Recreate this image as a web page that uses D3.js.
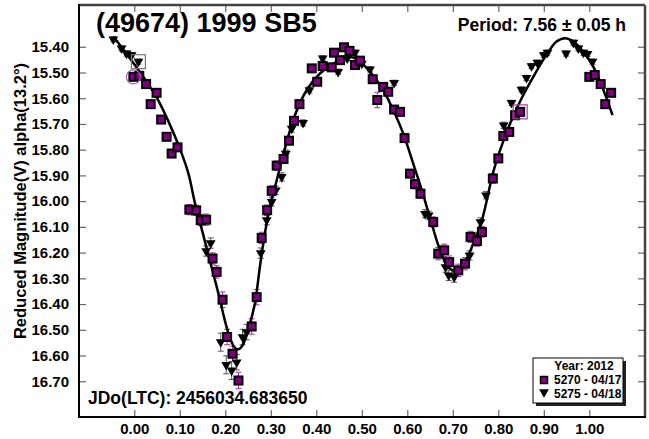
<!DOCTYPE html>
<html><head><meta charset="utf-8">
<script src="https://cdn.jsdelivr.net/npm/d3@7"></script>
<style>body{margin:0;background:#fff}svg{display:block}text{font-family:"Liberation Sans",Arial,sans-serif;font-weight:bold}</style>
</head><body>
<svg id="c" width="649" height="439"></svg>
<script>
// Series 1: squares, 5270 - 04/17
const sqPhase = [-0.002,0.011,0.026,0.049,0.036,0.059,0.071,0.082,0.095,0.121,0.136,0.146,0.158,0.172,0.181,0.194,0.204,0.216,0.229,0.258,0.269,0.280,0.292,0.302,0.313,0.328,0.340,0.351,0.363,0.390,0.402,0.414,0.434,0.439,0.452,0.461,0.473,0.485,0.496,0.524,0.534,0.547,0.558,0.571,0.584,0.594,0.606,0.617,0.629,0.657,0.668,0.681,0.692,0.712,0.727,0.739,0.753,0.764,0.788,0.800,0.811,0.824,0.837,0.848,1.000,1.012,1.025,1.035,1.048];
const sqMag   = [15.517,15.513,15.545,15.579,15.623,15.683,15.750,15.815,15.791,16.033,16.036,16.074,16.072,16.223,16.275,16.383,16.528,16.593,16.697,16.487,16.373,16.143,16.035,15.960,15.862,15.836,15.765,15.688,15.623,15.484,15.536,15.475,15.480,15.423,15.452,15.402,15.416,15.471,15.454,15.526,15.607,15.556,15.575,15.644,15.653,15.755,15.893,15.934,15.971,16.081,16.204,16.191,16.237,16.269,16.243,16.139,16.155,16.120,15.912,15.834,15.747,15.731,15.666,15.653,15.517,15.510,15.545,15.623,15.579];
const sqErr   = [0.012,0.012,0.012,0.012,0.014,0.014,0.014,0.016,0.016,0.020,0.020,0.022,0.022,0.022,0.024,0.030,0.030,0.030,0.032,0.030,0.030,0.022,0.020,0.020,0.018,0.016,0.016,0.014,0.014,0.012,0.014,0.012,0.012,0.012,0.012,0.012,0.012,0.012,0.012,0.014,0.030,0.014,0.014,0.014,0.014,0.016,0.016,0.018,0.018,0.020,0.024,0.024,0.024,0.024,0.024,0.022,0.020,0.020,0.018,0.016,0.016,0.014,0.014,0.014,0.012,0.012,0.012,0.014,0.012];
// Series 2: triangles, 5275 - 04/18
const trPhase = [-0.046,-0.028,-0.017,-0.006,0.009,0.158,0.168,0.190,0.202,0.214,0.225,0.238,0.247,0.278,0.291,0.302,0.311,0.324,0.333,0.346,0.371,0.385,0.414,0.448,0.468,0.485,0.500,0.518,0.556,0.571,0.639,0.647,0.684,0.691,0.703,0.737,0.761,0.773,0.812,0.829,0.851,0.862,0.873,0.886,0.900,0.908,0.949,0.965,0.976,0.987,0.996,1.007];
const trMag   = [15.371,15.406,15.426,15.432,15.458,16.194,16.163,16.548,16.636,16.658,16.626,16.528,16.509,16.202,16.074,16.003,15.958,15.906,15.815,15.718,15.696,15.568,15.445,15.497,15.445,15.423,15.465,15.488,15.568,15.540,16.049,16.055,16.256,16.288,16.295,16.211,16.081,15.977,15.705,15.618,15.566,15.521,15.475,15.462,15.432,15.423,15.426,15.384,15.406,15.423,15.428,15.458];
const trErr   = [0.010,0.010,0.010,0.010,0.010,0.020,0.020,0.035,0.035,0.035,0.030,0.030,0.030,0.020,0.018,0.016,0.016,0.016,0.014,0.014,0.012,0.012,0.010,0.010,0.010,0.010,0.010,0.010,0.010,0.010,0.016,0.016,0.020,0.020,0.020,0.018,0.016,0.014,0.012,0.010,0.010,0.010,0.010,0.010,0.010,0.010,0.010,0.010,0.010,0.010,0.010,0.010];
// Fitted curve
const fitPhase = [-0.046,-0.02,0.00,0.025,0.05,0.075,0.10,0.119,0.133,0.148,0.166,0.185,0.203,0.214,0.222,0.230,0.238,0.251,0.265,0.276,0.287,0.298,0.313,0.332,0.353,0.379,0.408,0.445,0.475,0.496,0.518,0.547,0.569,0.591,0.613,0.632,0.650,0.672,0.690,0.705,0.724,0.745,0.764,0.778,0.786,0.804,0.826,0.851,0.881,0.910,0.928,0.947,0.965,0.987,1.009,1.031,1.051];
const fitMag   = [15.360,15.420,15.468,15.530,15.600,15.690,15.795,15.893,16.005,16.107,16.230,16.360,16.490,16.548,16.572,16.575,16.560,16.496,16.398,16.256,16.126,16.023,15.919,15.789,15.666,15.568,15.504,15.458,15.440,15.458,15.497,15.568,15.646,15.737,15.854,15.958,16.065,16.191,16.256,16.270,16.243,16.165,16.074,15.971,15.906,15.802,15.698,15.601,15.504,15.420,15.380,15.367,15.380,15.420,15.478,15.568,15.666];
const xTicks = [0,0.1,0.2,0.3,0.4,0.5,0.6,0.7,0.8,0.9,1.0];
const yTicks = [15.4,15.5,15.6,15.7,15.8,15.9,16.0,16.1,16.2,16.3,16.4,16.5,16.6,16.7];
const legendTitle = "Year: 2012";
const seriesNames = ["5270 - 04/17","5275 - 04/18"];

const svg = d3.select("#c");
const L=79, R=645, T=5, B=417;
const x = d3.scaleLinear().domain([-0.1215,1.1224]).range([L,R]);
const y = d3.scaleLinear().domain([15.2377,16.8389]).range([T,B]);
const purple = "#800080";

// axes
const gx = svg.append("g").attr("transform",`translate(0,${B})`)
  .call(d3.axisBottom(x).tickValues(xTicks).tickFormat(d3.format(".2f")).tickSizeInner(-7).tickSizeOuter(0).tickPadding(6));
const gxt = svg.append("g").attr("transform",`translate(0,${T})`)
  .call(d3.axisTop(x).tickValues(xTicks).tickFormat("").tickSizeInner(-7).tickSizeOuter(0));
const gy = svg.append("g").attr("transform",`translate(${L},0)`)
  .call(d3.axisLeft(y).tickValues(yTicks).tickFormat(d3.format(".2f")).tickSizeInner(-7).tickSizeOuter(0).tickPadding(10));
const gyr = svg.append("g").attr("transform",`translate(${R},0)`)
  .call(d3.axisRight(y).tickValues(yTicks).tickFormat("").tickSizeInner(-7).tickSizeOuter(0));
[gx,gxt,gy,gyr].forEach(g=>{g.select(".domain").remove();g.selectAll(".tick line").attr("stroke","#666").attr("stroke-width",1.2);});
gx.selectAll("text").attr("font-size",15).attr("fill","#000");
gy.selectAll("text").attr("font-size",15).attr("fill","#000");

// frame
svg.append("line").attr("x1",L).attr("x2",R).attr("y1",T).attr("y2",T).attr("stroke","#444").attr("stroke-width",2.5);
svg.append("line").attr("x1",R).attr("x2",R).attr("y1",T).attr("y2",B).attr("stroke","#444").attr("stroke-width",2.5);
svg.append("line").attr("x1",L).attr("x2",L).attr("y1",T-1).attr("y2",B+1).attr("stroke","#000").attr("stroke-width",2);
svg.append("line").attr("x1",L-1).attr("x2",R+1).attr("y1",B).attr("y2",B).attr("stroke","#000").attr("stroke-width",2);

const sq = sqPhase.map((p,i)=>({p,m:sqMag[i],e:sqErr[i]}));
const tr = trPhase.map((p,i)=>({p,m:trMag[i],e:trErr[i]}));

function errBars(data,color){
  const g=svg.append("g").attr("stroke",color).attr("stroke-width",1);
  data.forEach(d=>{
    const x0=x(d.p), y1=y(d.m-d.e), y2=y(d.m+d.e);
    g.append("line").attr("x1",x0).attr("x2",x0).attr("y1",y1).attr("y2",y2);
    g.append("line").attr("x1",x0-3).attr("x2",x0+3).attr("y1",y1).attr("y2",y1);
    g.append("line").attr("x1",x0-3).attr("x2",x0+3).attr("y1",y2).attr("y2",y2);
  });
}
errBars(tr,"#555");
errBars(sq,"#a030a0");

// curve
const fit = fitPhase.map((p,i)=>({p,m:fitMag[i]}));
svg.append("path").datum(fit).attr("fill","none").attr("stroke","#000").attr("stroke-width",2.5)
  .attr("d",d3.line().x(d=>x(d.p)).y(d=>y(d.m)).curve(d3.curveCatmullRom));

// markers
const tri = d3.symbol().type(d3.symbolTriangle).size(42);
svg.append("g").selectAll("path").data(tr).join("path")
  .attr("d",tri).attr("transform",d=>`translate(${x(d.p)},${y(d.m)}) rotate(180)`).attr("fill","#000");
svg.append("g").selectAll("rect").data(sq).join("rect")
  .attr("x",d=>x(d.p)-4).attr("y",d=>y(d.m)-4).attr("width",8).attr("height",8)
  .attr("fill",purple).attr("stroke","#000").attr("stroke-width",2);

// highlight markers on first points
svg.append("rect").attr("x",x(tr[4].p)-7).attr("y",y(tr[4].m)-7).attr("width",14).attr("height",14).attr("fill","none").attr("stroke","#777").attr("stroke-width",1.2);
svg.append("circle").attr("cx",x(sq[0].p)).attr("cy",y(sq[0].m)).attr("r",7).attr("fill","none").attr("stroke","#b060b0").attr("stroke-width",1.2);
svg.append("rect").attr("x",x(sq[63].p)-7).attr("y",y(sq[63].m)-7).attr("width",14).attr("height",14).attr("fill","none").attr("stroke","#a040a0").attr("stroke-width",1.2);

// texts
svg.append("text").attr("x",96).attr("y",32).attr("font-size",27).text("(49674) 1999 SB5");
svg.append("text").attr("x",626).attr("y",31).attr("text-anchor","end").attr("font-size",17.5).text("Period: 7.56 ± 0.05 h");
svg.append("text").attr("x",88).attr("y",404).attr("font-size",17.5).text("JDo(LTC): 2456034.683650");
svg.append("text").attr("transform","translate(26,201) rotate(-90)").attr("text-anchor","middle").attr("font-size",16.5).text("Reduced Magnitude(V) alpha(13.2°)");

// legend
const lg = svg.append("g");
lg.append("rect").attr("x",536).attr("y",361).attr("width",90).attr("height",45).attr("fill","#222");
lg.append("rect").attr("x",533).attr("y",358).attr("width",90).attr("height",45).attr("fill","#fff").attr("stroke","#000").attr("stroke-width",1);
lg.append("text").attr("x",584).attr("y",370).attr("text-anchor","middle").attr("font-size",12).text(legendTitle);
lg.append("rect").attr("x",540.5).attr("y",376.5).attr("width",7).attr("height",7).attr("fill",purple).attr("stroke","#000").attr("stroke-width",1.5);
lg.append("path").attr("d",tri).attr("transform","translate(544,392) rotate(180)").attr("fill","#000");
lg.append("text").attr("x",554).attr("y",384).attr("font-size",12).text(seriesNames[0]);
lg.append("text").attr("x",554).attr("y",398).attr("font-size",12).text(seriesNames[1]);
</script>
</body></html>
